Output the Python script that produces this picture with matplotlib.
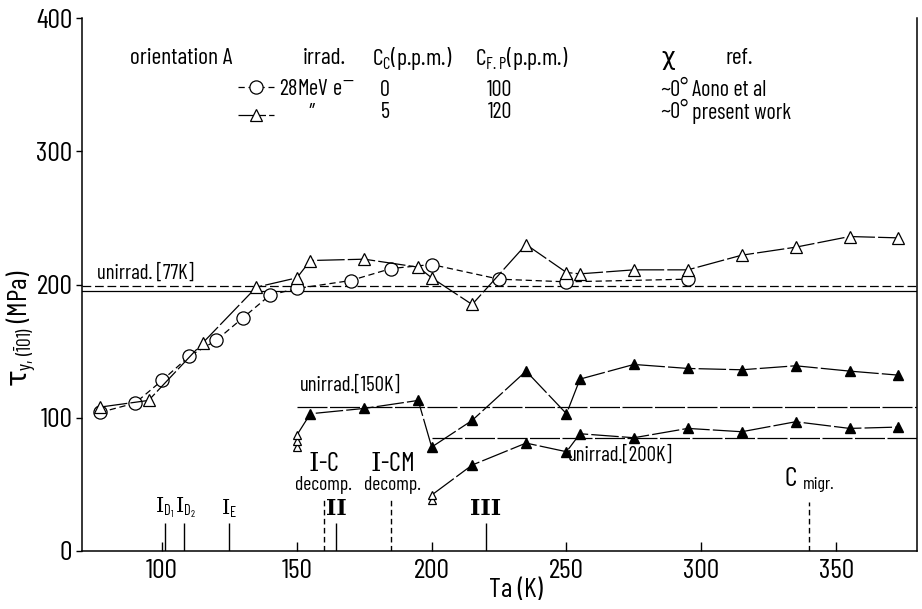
import matplotlib
matplotlib.use('Agg')
import matplotlib.pyplot as plt

FONT = ['Barlow Condensed', 'DejaVu Sans']
plt.rcParams['font.family'] = FONT
plt.rcParams['mathtext.fontset'] = 'custom'
plt.rcParams['mathtext.rm'] = 'DejaVu Serif'
plt.rcParams['mathtext.sf'] = 'Barlow Condensed'
plt.rcParams['mathtext.it'] = 'DejaVu Sans'
plt.rcParams['mathtext.bf'] = 'DejaVu Serif:bold'

# Aono et al (open circles)
aono_T = [77, 90, 100, 110, 120, 130, 140, 150, 170, 185, 200, 225, 250, 295]
aono_tau = [104, 111, 128, 146, 158, 175, 192, 197, 203, 212, 215, 204, 202, 204]

# present work (open triangles)
pres_T = [77, 95, 115, 135, 150, 155, 175, 195, 200, 215, 235, 250, 255, 275, 295, 315, 335, 355, 373]
pres_tau = [108, 113, 156, 198, 205, 218, 219, 213, 205, 185, 230, 209, 208, 211, 211, 222, 228, 236, 235]

# tested at 150K / 200K after annealing (filled triangles)
t150_T = [155, 175, 195, 200, 215, 235, 250, 255, 275, 295, 315, 335, 355, 373]
t150_tau = [103, 107, 113, 78, 98, 135, 103, 129, 140, 137, 136, 139, 135, 132]
t200_T = [215, 235, 250, 255, 275, 295, 315, 335, 355, 373]
t200_tau = [64.5, 81, 74.5, 88, 85, 92, 89.5, 97, 92, 93]

# as-irradiated values at the test temperature
start150_T = [150, 150, 150]
start150_tau = [78, 82.5, 87]
start200_T = [200, 200]
start200_tau = [38, 42]

# unirradiated reference levels
unirr77_dash = 199
unirr77_solid = 195
unirr150 = 108
unirr200 = 85

# recovery stages
stage_T = [101, 108, 125, 164.5, 220]
decomp_T = [160, 185, 340]

fig = plt.figure(figsize=(9.22, 6.09), dpi=100)
ax = fig.add_axes([82 / 922, 58 / 609, 835 / 922, 533 / 609])
ax.set_xlim(70.3, 380)
ax.set_ylim(0, 400)

# pixel -> axes fraction helpers for the table text
def fx(px):
    return (px - 82) / 835

def fy(py):
    return (551 - py) / 533

lw = 0.9
ax.axhline(unirr77_dash, color='k', lw=lw, dashes=(7, 3))
ax.axhline(unirr77_solid, color='k', lw=lw)
ax.hlines(unirr150, 150, 380, color='k', lw=lw, linestyles=(0, (24, 2)))
ax.hlines(unirr200, 200, 380, color='k', lw=lw, linestyles=(0, (24, 2)))

ax.text(76, 201, 'unirrad. [77K]', fontsize=15, va='bottom')
ax.text(151, 117, 'unirrad.[150K]', fontsize=15, va='bottom')
ax.text(250.5, 65, 'unirrad.[200K]', fontsize=15, va='bottom')

l_aono, = ax.plot(aono_T, aono_tau, color='k', lw=lw, dashes=(5, 3),
                  marker='o', ms=9.5, mfc='white', mec='k', mew=0.9, zorder=3)
l_pres, = ax.plot(pres_T, pres_tau, color='k', lw=lw, dashes=(22, 2.5),
                  marker='^', ms=8, mfc='white', mec='k', mew=0.9, zorder=4)

ax.plot(start150_T[-1:] + t150_T, start150_tau[-1:] + t150_tau, color='k', lw=lw,
        dashes=(22, 2.5), zorder=3)
ax.plot(start200_T[-1:] + t200_T, start200_tau[-1:] + t200_tau, color='k', lw=lw,
        dashes=(22, 2.5), zorder=3)
ax.plot(t150_T, t150_tau, '^', color='k', ms=7.5, zorder=4)
ax.plot(t200_T, t200_tau, '^', color='k', ms=7.5, zorder=4)
ax.plot(start150_T, start150_tau, '^', ms=5.5, mfc='white', mec='k', mew=0.9, zorder=4)
ax.plot(start200_T, start200_tau, '^', ms=5.5, mfc='white', mec='k', mew=0.9, zorder=4)

# recovery stage markers
ax.vlines(stage_T, 0, 21, color='k', lw=1.0)
ax.vlines(decomp_T, 0, [40, 40, 37], color='k', lw=1.0, linestyles=(0, (4, 2.5)))

ax.text(101, 23, r'$\mathrm{I}_{\mathsf{D_1}}$', fontsize=15, ha='center', va='bottom')
ax.text(108.7, 23, r'$\mathrm{I}_{\mathsf{D_2}}$', fontsize=15, ha='center', va='bottom')
ax.text(125, 23, r'$\mathrm{I}_{\mathsf{E}}$', fontsize=15, ha='center', va='bottom')
ax.text(164.5, 23, 'II', fontsize=16, ha='center', va='bottom', family='DejaVu Serif',
        weight='bold')
ax.text(220, 23, 'III', fontsize=16, ha='center', va='bottom', family='DejaVu Serif',
        weight='bold')
ax.text(160, 56, r'$\mathrm{I}$-C', fontsize=19, ha='center', va='bottom')
ax.text(160, 42.5, 'decomp.', fontsize=14, ha='center', va='bottom')
ax.text(185.5, 56, r'$\mathrm{I}$-CM', fontsize=19, ha='center', va='bottom')
ax.text(185.5, 42.5, 'decomp.', fontsize=14, ha='center', va='bottom')
ax.text(333, 45, 'C', fontsize=20, ha='center', va='bottom')
ax.text(337.5, 44, 'migr.', fontsize=13, ha='left', va='bottom')

# legend table
hy, r1, r2 = fy(59), fy(90), fy(113)
kw = dict(transform=ax.transAxes, fontsize=17, va='center')
ax.text(fx(130), hy, 'orientation A', **kw)
ax.text(fx(303), hy, 'irrad.', **kw)
ax.text(fx(372), hy, r'C$_{\mathsf{C}}$(p.p.m.)', **kw)
ax.text(fx(475), hy, r'C$_{\mathsf{F.P}}$(p.p.m.)', **kw)
ax.text(fx(668), hy, 'χ', ha='center', **kw)
ax.text(fx(725), hy, 'ref.', **kw)

ax.legend([l_aono, l_pres], ['28MeV e$^{-}$', ''], loc='upper left',
          bbox_to_anchor=(fx(238), fy(79)), frameon=False, borderpad=0,
          borderaxespad=0, handlelength=1.6, handletextpad=0.25,
          labelspacing=0.3, fontsize=16)

kw['fontsize'] = 16
ax.text(fx(312), r2, '″', ha='center', **kw)
ax.text(fx(385), r1, '0', ha='center', **kw)
ax.text(fx(385), r2, '5', ha='center', **kw)
ax.text(fx(500), r1, '100', ha='center', **kw)
ax.text(fx(500), r2, '120', ha='center', **kw)
ax.text(fx(660), r1, '~0°', **kw)
ax.text(fx(660), r2, '~0°', **kw)
ax.text(fx(692), r1, 'Aono et al', **kw)
ax.text(fx(692), r2, 'present work', **kw)

ax.set_xticks([100, 150, 200, 250, 300, 350])
ax.set_yticks([0, 100, 200, 300, 400])
ax.tick_params(axis='x', direction='in', length=6.5, width=1, labelsize=20, pad=6)
ax.tick_params(axis='y', direction='out', length=4, width=1, labelsize=20, pad=3)
ax.spines['top'].set_visible(False)
for s in ['left', 'bottom', 'right']:
    ax.spines[s].set_linewidth(1.1)

ax.set_xlabel('Ta (K)', fontsize=20)
ax.xaxis.set_label_coords(0.52, -0.05)
ax.set_ylabel(r'$\tau_{\mathsf{y,(\bar{1}01)}}$ (MPa)', fontsize=20)
ax.yaxis.set_label_coords(-0.052, 0.418)

fig.savefig('out.png', dpi=100)
